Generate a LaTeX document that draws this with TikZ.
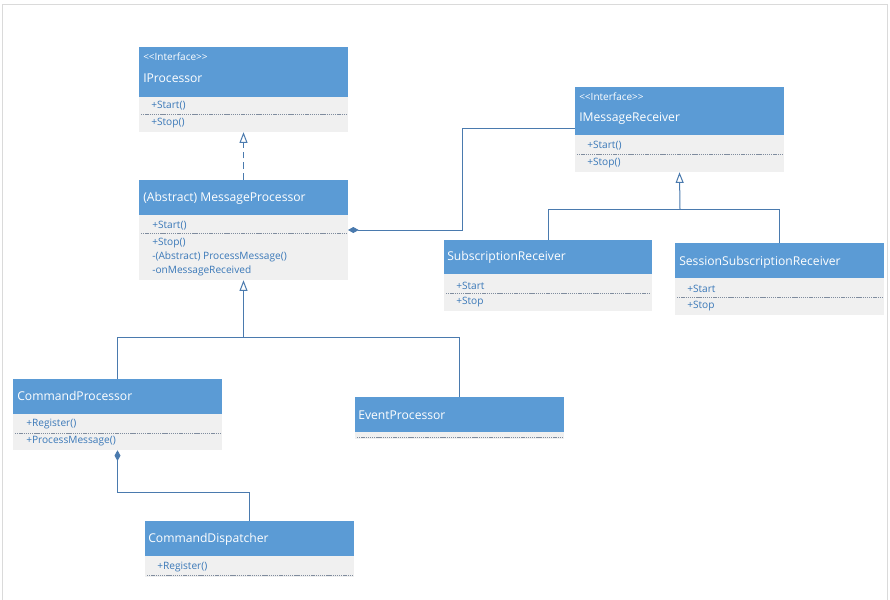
\documentclass[tikz,border=0pt]{standalone}
\usepackage{fontspec}
\setmainfont{Open Sans}
\usetikzlibrary{arrows.meta,fit,calc}
\definecolor{hdrblue}{HTML}{5B9BD5}
\definecolor{bodygrey}{HTML}{F0F0F0}
\definecolor{memblue}{HTML}{3A78B8}
\definecolor{linecol}{HTML}{4A7AAE}
\definecolor{sepcol}{HTML}{7F8C9E}
\definecolor{framecol}{HTML}{DADADA}
\tikzset{
  hdr/.style={fill=hdrblue, draw=none, inner sep=0pt},
  bodybox/.style={fill=bodygrey, draw=none, inner sep=0pt},
  cname/.style={anchor=west, text=white, font=\fontsize{9.1pt}{10pt}\selectfont, inner sep=0pt, yshift=-0.75pt},
  stereo/.style={anchor=west, text=white, font=\fontsize{7.5pt}{8pt}\selectfont, inner sep=0pt},
  member/.style={anchor=west, text=memblue, font=\fontsize{7.6pt}{8pt}\selectfont, inner sep=0pt, yshift=-0.5pt},
  sepline/.style={draw=sepcol, line width=0.4pt, dash pattern=on 1pt off 0.6pt},
  conn/.style={draw=linecol, line width=0.75pt},
  gen/.style={conn, -{Triangle[open, length=8pt, width=6pt, fill=white]}},
  real/.style={gen, dash pattern=on 5pt off 3pt},
  comp/.style={conn, {Diamond[length=8pt, width=4.5pt, fill=linecol]}-},
}
\begin{document}
\begin{tikzpicture}[x=0.75pt, y=-0.75pt]
\useasboundingbox (0,0) rectangle (890,600);
\fill[white] (0,0) rectangle (890,600);
% page frame
\draw[framecol, line width=0.5pt] (2,600) -- (2,4) -- (887,4) -- (887,600);

% IProcessor
\node[hdr, fit={(139,47) (348,97)}] (iph) {};
\node[bodybox, fit={(139,97) (348,132)}] (ipb) {};
\draw[sepline] (141,114) -- (346,114);
\node[stereo] (ips) at (143,57) {<{}<Interface>{}>};
\node[cname] (ipn) at (143,77) {IProcessor};
\node[member] (ipm1) at (151,105) {+Start()};
\node[member] (ipm2) at (151,122) {+Stop()};

% MessageProcessor
\node[hdr, fit={(139,180) (348,215)}] (mph) {};
\node[bodybox, fit={(139,215) (348,280)}] (mpb) {};
\draw[sepline] (141,233) -- (346,233);
\node[cname] (mpn) at (143,197) {(Abstract) MessageProcessor};
\node[member] (mpm1) at (152,225) {+Start()};
\node[member] (mpm2) at (152,242) {+Stop()};
\node[member] (mpm3) at (152,256) {-(Abstract) ProcessMessage()};
\node[member] (mpm4) at (152,270) {-onMessageReceived};

% IMessageReceiver
\node[hdr, fit={(575,87) (784,135)}] (imh) {};
\node[bodybox, fit={(575,135) (784,172)}] (imb) {};
\draw[sepline] (577,154) -- (782,154);
\node[stereo] (ims) at (579,97) {<{}<Interface>{}>};
\node[cname] (imn) at (579,118) {IMessageReceiver};
\node[member] (imm1) at (587,145) {+Start()};
\node[member] (imm2) at (587,162) {+Stop()};

% SubscriptionReceiver
\node[hdr, fit={(444,240) (652,274)}] (srh) {};
\node[bodybox, fit={(444,274) (652,311)}] (srb) {};
\draw[sepline] (446,293) -- (650,293);
\node[cname] (srn) at (447,256) {SubscriptionReceiver};
\node[member] (srm1) at (456,285) {+Start};
\node[member] (srm2) at (456,301) {+Stop};

% SessionSubscriptionReceiver
\node[hdr, fit={(675,243) (884,278)}] (ssh) {};
\node[bodybox, fit={(675,278) (884,315)}] (ssb) {};
\draw[sepline] (677,297) -- (882,297);
\node[cname] (ssn) at (679,261) {SessionSubscriptionReceiver};
\node[member] (ssm1) at (687,288) {+Start};
\node[member] (ssm2) at (687,305) {+Stop};

% CommandProcessor
\node[hdr, fit={(13,379) (222,414)}] (cph) {};
\node[bodybox, fit={(13,414) (222,450)}] (cpb) {};
\draw[sepline] (15,433) -- (220,433);
\node[cname] (cpn) at (17,395) {CommandProcessor};
\node[member] (cpm1) at (26,423) {+Register()};
\node[member] (cpm2) at (26,440) {+ProcessMessage()};

% EventProcessor
\node[hdr, fit={(355,397) (564,432)}] (eph) {};
\node[bodybox, fit={(355,432) (564,439)}] (epb) {};
\draw[sepline] (357,437) -- (562,437);
\node[cname] (epn) at (358,414) {EventProcessor};

% CommandDispatcher
\node[hdr, fit={(145,521) (354,556)}] (cdh) {};
\node[bodybox, fit={(145,556) (354,577)}] (cdb) {};
\draw[sepline] (147,575) -- (352,575);
\node[cname] (cdn) at (148,538) {CommandDispatcher};
\node[member] (cdm1) at (157,566) {+Register()};

% connectors
\draw[real] (mph.north) -- (ipb.south);

\coordinate (mpc) at (348,230);
\coordinate (b1) at (462,230);
\coordinate (imc) at (575,128);
\draw[comp] (mpc) -- (b1) |- (imc);

\coordinate (g1) at (680,209);
\draw[conn] (srh.north) |- (g1);
\draw[conn] (ssh.north) |- (g1);
\draw[gen] (g1) -- (imb.south);

\coordinate (g2) at (243.5,337);
\draw[conn] (cph.north) |- (g2);
\draw[conn] (eph.north) |- (g2);
\draw[gen] (g2) -- (mpb.south);

\coordinate (b2) at (117.5,492);
\draw[comp] (cpb.south) -- (b2) -| (cdh.north);
\end{tikzpicture}
\end{document}
